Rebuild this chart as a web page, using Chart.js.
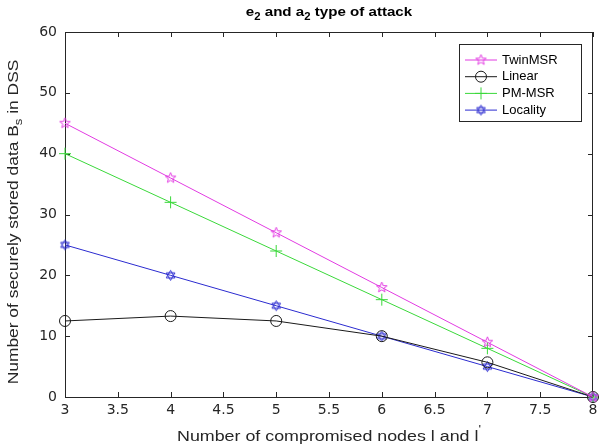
<!DOCTYPE html>
<html>
<head>
<meta charset="utf-8">
<script src="https://cdn.jsdelivr.net/npm/chart.js@4/dist/chart.umd.min.js"></script>
<style>
  html, body { margin: 0; padding: 0; background: #fff; }
  #wrap { width: 600px; height: 447px; }
</style>
</head>
<body>
<div id="wrap"><canvas id="attackChart" width="600" height="447"></canvas></div>
<script>
// --- data ---
const nodes     = [3, 4, 5, 6, 7, 8];
const twinMSR   = [45, 36, 27, 18, 9, 0];
const linear    = [12.5, 13.3, 12.5, 10, 5.7, 0];
const pmMSR     = [40, 32, 24, 16, 8, 0];
const locality  = [25, 20, 15, 10, 5, 0];
const seriesNames = ["TwinMSR", "Linear", "PM-MSR", "Locality"];

const xTicks = [3, 3.5, 4, 4.5, 5, 5.5, 6, 6.5, 7, 7.5, 8];
const yTicks = [0, 10, 20, 30, 40, 50, 60];

const FONT = "'Liberation Sans', Arial, sans-serif";
const TICK_FONT = "'DejaVu Sans', sans-serif";
const AXIS_COLOR = "#262626";

// marker images (MATLAB pentagram / hexagram)
function makeMarker(color, kind) {
    const c = document.createElement("canvas");
    c.width = 13; c.height = 13;
    const g = c.getContext("2d");
    g.strokeStyle = color;
    g.lineWidth = 1;
    g.translate(6.5, 6.5);
    g.beginPath();
    if (kind === "penta") {
        const R = 5.5, r = 2.3;
        for (let i = 0; i < 10; i++) {
            const a = -Math.PI / 2 + i * Math.PI / 5;
            const rad = i % 2 ? r : R;
            g.lineTo(rad * Math.cos(a), rad * Math.sin(a));
        }
        g.closePath();
    } else {
        const R = 5;
        for (let t = 0; t < 2; t++) {
            for (let i = 0; i < 3; i++) {
                const a = (t ? Math.PI / 2 : -Math.PI / 2) + i * 2 * Math.PI / 3;
                if (i === 0) g.moveTo(R * Math.cos(a), R * Math.sin(a));
                else g.lineTo(R * Math.cos(a), R * Math.sin(a));
            }
            g.closePath();
        }
    }
    g.stroke();
    return c;
}

const colors = ["#e23be2", "#1a1a1a", "#3ad83a", "#2b2bd0"];
const styles = [makeMarker(colors[0], "penta"), "circle", "cross", makeMarker(colors[3], "hexa")];
const values = [twinMSR, linear, pmMSR, locality];

const datasets = values.map((vals, i) => ({
    label: seriesNames[i],
    data: nodes.map((x, k) => ({ x: x, y: vals[k] })),
    borderColor: colors[i],
    backgroundColor: "rgba(0,0,0,0)",
    borderWidth: 1,
    pointStyle: styles[i],
    pointRadius: i === 1 ? 5.5 : 6,
    pointBorderColor: colors[i],
    pointBorderWidth: 1,
    pointBackgroundColor: "rgba(0,0,0,0)",
    tension: 0,
    clip: 10
}));

// draws text runs with sub / superscripts, stretched horizontally by sx
function richText(ctx, parts, x, y, size, bold, sx) {
    sx = sx || 1;
    const fontFor = p => `${bold ? "bold " : ""}${p.sub || p.sup ? size * 0.75 : size}px ${FONT}`;
    const w = parts.reduce((s, p) => { ctx.font = fontFor(p); return s + ctx.measureText(p.t).width; }, 0);
    ctx.save();
    ctx.translate(x, y);
    ctx.scale(sx, 1);
    let cx = -w / 2;
    ctx.textAlign = "left";
    ctx.textBaseline = "middle";
    parts.forEach(p => {
        ctx.font = fontFor(p);
        const dy = p.sub ? size * 0.35 : p.sup ? -size * 0.45 : 0;
        ctx.fillText(p.t, cx, dy);
        cx += ctx.measureText(p.t).width;
    });
    ctx.restore();
}

const frameAndLabels = {
    id: "frameAndLabels",
    beforeDatasetsDraw(chart) {
        const { ctx, chartArea: a, scales } = chart;
        ctx.save();
        ctx.strokeStyle = AXIS_COLOR;
        ctx.lineWidth = 1;
        ctx.strokeRect(a.left + 0.5, a.top + 0.5, a.right - a.left - 1, a.bottom - a.top);
        ctx.beginPath();
        xTicks.forEach(v => {
            const px = Math.round(scales.x.getPixelForValue(v)) + 0.5;
            ctx.moveTo(px, a.bottom); ctx.lineTo(px, a.bottom - 5);
            ctx.moveTo(px, a.top); ctx.lineTo(px, a.top + 5);
        });
        yTicks.forEach(v => {
            const py = Math.round(scales.y.getPixelForValue(v)) + 0.5;
            ctx.moveTo(a.left, py); ctx.lineTo(a.left + 5, py);
            ctx.moveTo(a.right, py); ctx.lineTo(a.right - 5, py);
        });
        ctx.stroke();
        ctx.restore();
    },
    afterDraw(chart) {
        const { ctx, chartArea: a } = chart;
        ctx.save();
        ctx.fillStyle = "#000";
        const midX = (a.left + a.right) / 2;
        richText(ctx, [{ t: "e" }, { t: "2", sub: true }, { t: " and a" }, { t: "2", sub: true }, { t: " type of attack" }], midX, 12, 13.5, true, 1.12);
        ctx.fillStyle = AXIS_COLOR;
        richText(ctx, [{ t: "Number of compromised nodes l and l" }, { t: "'", sup: true }], midX, 437, 14.5, false, 1.23);
        ctx.translate(14, 222);
        ctx.rotate(-Math.PI / 2);
        richText(ctx, [{ t: "Number of securely stored data B" }, { t: "s", sub: true }, { t: " in DSS" }], 0, 0, 14.5, false, 1.2);
        ctx.restore();

        // legend box, inside the axes at top right
        const box = { left: 459, top: 44, right: 581, bottom: 121 };
        ctx.save();
        ctx.fillStyle = "#fff";
        ctx.fillRect(box.left, box.top, box.right - box.left, box.bottom - box.top);
        ctx.strokeStyle = AXIS_COLOR;
        ctx.lineWidth = 1;
        ctx.strokeRect(box.left + 0.5, box.top + 0.5, box.right - box.left, box.bottom - box.top);
        chart.data.datasets.forEach((ds, i) => {
            const y = 60 + i * 16.7;
            ctx.strokeStyle = ds.borderColor;
            ctx.fillStyle = "rgba(0,0,0,0)";
            ctx.beginPath();
            ctx.moveTo(465, y); ctx.lineTo(497, y);
            ctx.stroke();
            Chart.helpers.drawPoint(ctx, { pointStyle: ds.pointStyle, radius: ds.pointRadius, borderWidth: 1, rotation: 0 }, 481, y);
            ctx.fillStyle = "#000";
            ctx.font = `13px ${FONT}`;
            ctx.textAlign = "left";
            ctx.textBaseline = "middle";
            ctx.fillText(ds.label, 502, y);
        });
        ctx.restore();
    }
};

function fixWidth(w) { return scale => { scale.width = w; scale.paddingTop = 0; scale.paddingBottom = 0; }; }
function fixHeight(h) { return scale => { scale.height = h; scale.paddingLeft = 0; scale.paddingRight = 0; }; }
const plainNumber = v => String(v);

new Chart(document.getElementById("attackChart"), {
    type: "line",
    data: { datasets },
    options: {
        responsive: false,
        animation: false,
        layout: { padding: { top: 32, right: 2, left: 0, bottom: 0 } },
        plugins: { legend: { display: false }, title: { display: false }, tooltip: { enabled: false } },
        scales: {
            x: {
                type: "linear",
                min: 3, max: 8,
                afterBuildTicks: s => { s.ticks = xTicks.map(v => ({ value: v })); },
                grid: { display: false, drawTicks: false },
                border: { display: false },
                ticks: { padding: 5, color: AXIS_COLOR, font: { family: TICK_FONT, size: 14 }, maxRotation: 0, autoSkip: false, callback: plainNumber },
                afterFit: fixHeight(50)
            },
            y: {
                min: 0, max: 60,
                afterBuildTicks: s => { s.ticks = yTicks.map(v => ({ value: v })); },
                grid: { display: false, drawTicks: false },
                border: { display: false },
                ticks: { padding: 8, color: AXIS_COLOR, font: { family: TICK_FONT, size: 14 }, callback: plainNumber },
                afterFit: fixWidth(65)
            }
        }
    },
    plugins: [frameAndLabels]
});
</script>
</body>
</html>
